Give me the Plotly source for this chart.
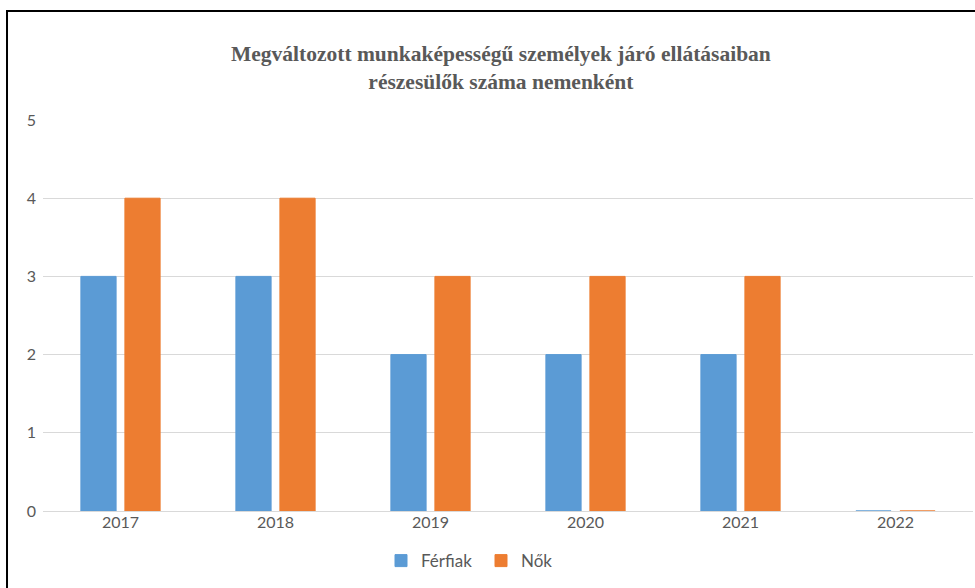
import plotly.graph_objects as go

years = ["2017", "2018", "2019", "2020", "2021", "2022"]
ferfiak = [3, 3, 2, 2, 2, 0]
nok = [4, 4, 3, 3, 3, 0]
y_ticks = [0, 1, 2, 3, 4, 5]

blue = "#5B9BD5"
orange = "#ED7D31"
txt = "#595959"

fig = go.Figure()
fig.add_trace(go.Bar(x=years, y=ferfiak, name="Férfiak", marker=dict(color=blue, line=dict(color=blue, width=1))))
fig.add_trace(go.Bar(x=years, y=nok, name="Nők", marker=dict(color=orange, line=dict(color=orange, width=1))))

fig.update_layout(
    width=975, height=588,
    margin=dict(l=43, r=2, t=120, b=77),
    paper_bgcolor="white", plot_bgcolor="white",
    barmode="group", bargap=0.432, bargroupgap=0.2,
    font=dict(family="Lato, 'Open Sans', sans-serif", color=txt, size=15),
    showlegend=True,
    legend=dict(orientation="h", x=(381 - 43) / 930, xanchor="left", y=-0.128, yanchor="middle",
                font=dict(size=17, color=txt), itemwidth=30, traceorder="normal",
                entrywidth=55, entrywidthmode="pixels"),
    xaxis=dict(showgrid=False, showline=False, ticks="", tickfont=dict(size=16, color=txt)),
    yaxis=dict(range=[0, 5], tickvals=y_ticks, showgrid=True, gridcolor="#D9D9D9", gridwidth=1,
               zeroline=True, zerolinecolor="#D9D9D9", zerolinewidth=1, ticks="",
               ticklabelstandoff=6, tickfont=dict(size=16, color=txt)),
    annotations=[dict(
        text="<b>Megváltozott munkaképességű személyek járó ellátásaiban<br>részesülők száma nemenként</b>",
        xref="paper", yref="paper", x=0.4925, y=1.134, xanchor="center", yanchor="middle",
        showarrow=False, font=dict(family="Liberation Serif, serif", size=21.5, color=txt))],
    shapes=[dict(type="rect", xref="paper", yref="paper", x0=-0.0387, x1=1.2, y0=-0.4, y1=1.279,
                 line=dict(color="black", width=2), fillcolor="rgba(0,0,0,0)", layer="above")],
)

fig.write_html("out.html", config={"displayModeBar": False},
               post_script="document.body.style.margin='0';document.body.style.padding='0';")
